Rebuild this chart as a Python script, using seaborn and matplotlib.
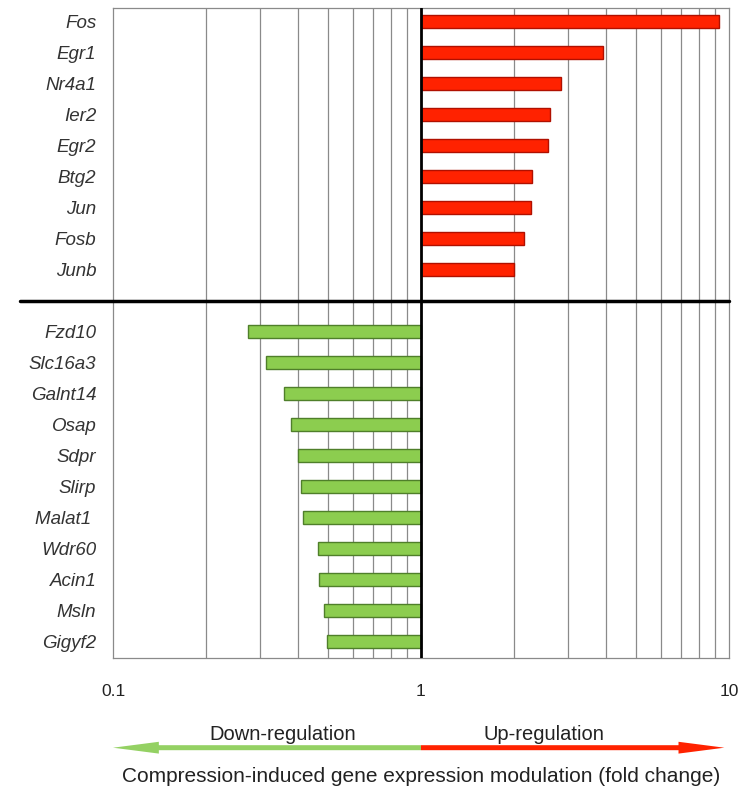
import numpy as np
import matplotlib
matplotlib.use("Agg")
import matplotlib.pyplot as plt
import seaborn as sns

# fold changes
genes_up = ["Fos", "Egr1", "Nr4a1", "Ier2", "Egr2", "Btg2", "Jun", "Fosb", "Junb"]
fold_up = [9.3, 3.9, 2.85, 2.62, 2.58, 2.29, 2.27, 2.16, 2.0]
genes_down = ["Fzd10", "Slc16a3", "Galnt14", "Osap", "Sdpr", "Slirp", "Malat1 ",
              "Wdr60", "Acin1", "Msln", "Gigyf2"]
fold_down = [0.275, 0.313, 0.36, 0.377, 0.40, 0.408, 0.414, 0.463, 0.468, 0.483, 0.497]

tick_vals = [0.1, 1, 10]
tick_labels = ["0.1", "1", "10"]
grid_vals = [0.2, 0.3, 0.4, 0.5, 0.6, 0.7, 0.8, 0.9, 2, 3, 4, 5, 6, 7, 8, 9]

RED = "#ff2200"
RED_EDGE = "#b01000"
GREEN = "#8ccd4f"
GREEN_EDGE = "#4f7f2a"
ARROW_GREEN = "#94d163"

sns.set_style("white")
plt.rcParams["font.family"] = ["Liberation Sans", "DejaVu Sans"]

order = genes_up + [" "] + genes_down

fig = plt.figure(figsize=(7.43, 7.88), dpi=100)
ax = fig.add_axes([0.1521, 0.165, 0.829, 0.825])

# grid first so bars sit on top
for g in grid_vals:
    ax.axvline(np.log10(g), color="#8a8a8a", lw=0.9, zorder=0)

sns.barplot(x=np.log10(fold_up), y=genes_up, order=order, orient="h",
            color=RED, edgecolor=RED_EDGE, linewidth=1, saturation=1,
            width=0.42, ax=ax, zorder=2)
sns.barplot(x=np.log10(fold_down), y=genes_down, order=order, orient="h",
            color=GREEN, edgecolor=GREEN_EDGE, linewidth=1, saturation=1,
            width=0.42, ax=ax, zorder=2)

ax.axvline(0, color="black", lw=2, zorder=3)
ax.axhline(len(genes_up), xmin=-0.151, xmax=1.0, color="black", lw=2.5,
           clip_on=False, zorder=3)

ax.set_xlim(-1, 1)
ax.set_ylim(len(order) - 0.48, -0.45)
ax.set_xticks(np.log10(tick_vals))
ax.set_xticklabels(tick_labels, fontsize=12.5, color="#222222")
ax.tick_params(axis="x", length=0, pad=19)
ax.tick_params(axis="y", length=0, pad=12)
for lab in ax.get_yticklabels():
    lab.set_fontstyle("italic")
    lab.set_fontsize(13.5)
    lab.set_color("#333333")
ax.set_xlabel("")
ax.set_ylabel("")
for s in ax.spines.values():
    s.set_color("#8a8a8a")
    s.set_linewidth(0.9)

# direction arrow under the axis
arrow_y = -0.138
head = "simple,head_length=3.3,head_width=0.85,tail_width=0.36"
ax.annotate("", xy=(-1, arrow_y), xytext=(0, arrow_y),
            xycoords=("data", "axes fraction"), textcoords=("data", "axes fraction"),
            arrowprops=dict(arrowstyle=head, color=ARROW_GREEN, lw=0,
                            mutation_scale=10, shrinkA=0, shrinkB=0))
ax.annotate("", xy=(0.985, arrow_y), xytext=(0, arrow_y),
            xycoords=("data", "axes fraction"), textcoords=("data", "axes fraction"),
            arrowprops=dict(arrowstyle=head, color=RED, lw=0,
                            mutation_scale=10, shrinkA=0, shrinkB=0))
ax.text(-0.448, -0.118, "Down-regulation", transform=ax.get_xaxis_transform(),
        ha="center", va="center", fontsize=14.5, color="#222222")
ax.text(0.40, -0.118, "Up-regulation", transform=ax.get_xaxis_transform(),
        ha="center", va="center", fontsize=14.5, color="#222222")
ax.text(0, -0.183, "Compression-induced gene expression modulation (fold change)",
        transform=ax.get_xaxis_transform(), ha="center", va="center",
        fontsize=15, color="#222222")

fig.savefig("out.png", dpi=100)
